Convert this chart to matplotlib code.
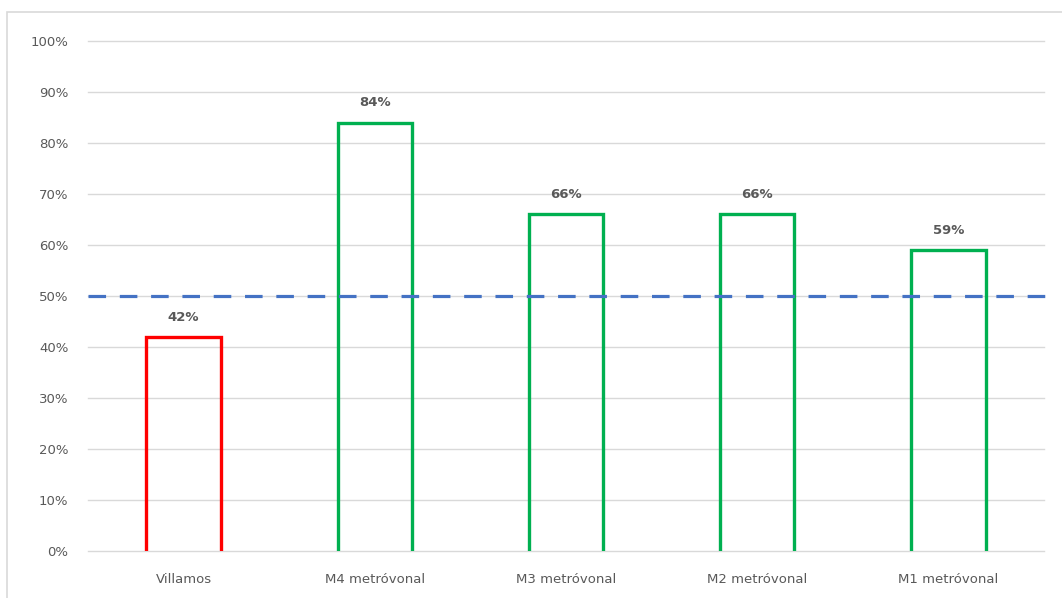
import matplotlib
matplotlib.use("Agg")
import matplotlib.pyplot as plt
from matplotlib.patches import Rectangle
from matplotlib.ticker import FuncFormatter, MultipleLocator

categories = ["Villamos", "M4 metróvonal", "M3 metróvonal", "M2 metróvonal", "M1 metróvonal"]
values = [0.42, 0.84, 0.66, 0.66, 0.59]
bar_colors = ["#FF0000", "#00B050", "#00B050", "#00B050", "#00B050"]
threshold = 0.50

TEXT_GRAY = "#595959"
plt.rcParams["font.family"] = ["DejaVu Sans"]

W, H = 1062, 598
fig = plt.figure(figsize=(W / 100, H / 100), dpi=100)
ax = fig.add_axes([88 / W, 47 / H, (1044 - 88) / W, (551 - 41) / H])

# outer chart frame (right and bottom edges fall outside the image)
fig.patches.append(Rectangle((7 / W, -0.05), 1.1, 0.05 + 586 / H, transform=fig.transFigure,
                             fill=False, edgecolor="#D9D9D9", linewidth=1.2))

bar_w = 0.39
for i, (v, c) in enumerate(zip(values, bar_colors)):
    x0, x1 = i - bar_w / 2, i + bar_w / 2
    ax.plot([x0, x0, x1, x1], [0, v, v, 0], color=c, linewidth=2.4,
            solid_joinstyle="miter", zorder=3)
    ax.text(i, v + 0.026, f"{v:.0%}", ha="center", va="bottom",
            fontsize=9.5, fontweight="bold", color=TEXT_GRAY)

ax.set_xlim(-0.5, len(categories) - 0.5)
ax.set_ylim(0, 1.0)
ext = (1058 - 1044) / ((1044 - 88) / len(categories))
ax.plot([-0.5, len(categories) - 0.5 + ext], [threshold, threshold],
        color="#4472C4", linewidth=2.3, dashes=(5.5, 4.3), clip_on=False, zorder=4)

ax.yaxis.set_major_locator(MultipleLocator(0.1))
ax.yaxis.set_major_formatter(FuncFormatter(lambda y, _: f"{y:.0%}"))
ax.set_xticks(range(len(categories)))
ax.set_xticklabels(categories)
ax.grid(axis="y", color="#D9D9D9", linewidth=1)
for gl in ax.get_ygridlines():
    gl.set_clip_on(False)
ax.set_axisbelow(True)
for s in ax.spines.values():
    s.set_visible(False)
ax.tick_params(axis="both", length=0, labelsize=9.5, colors=TEXT_GRAY)
ax.tick_params(axis="y", pad=14)
ax.tick_params(axis="x", pad=16)

fig.savefig("out.png", dpi=100)
